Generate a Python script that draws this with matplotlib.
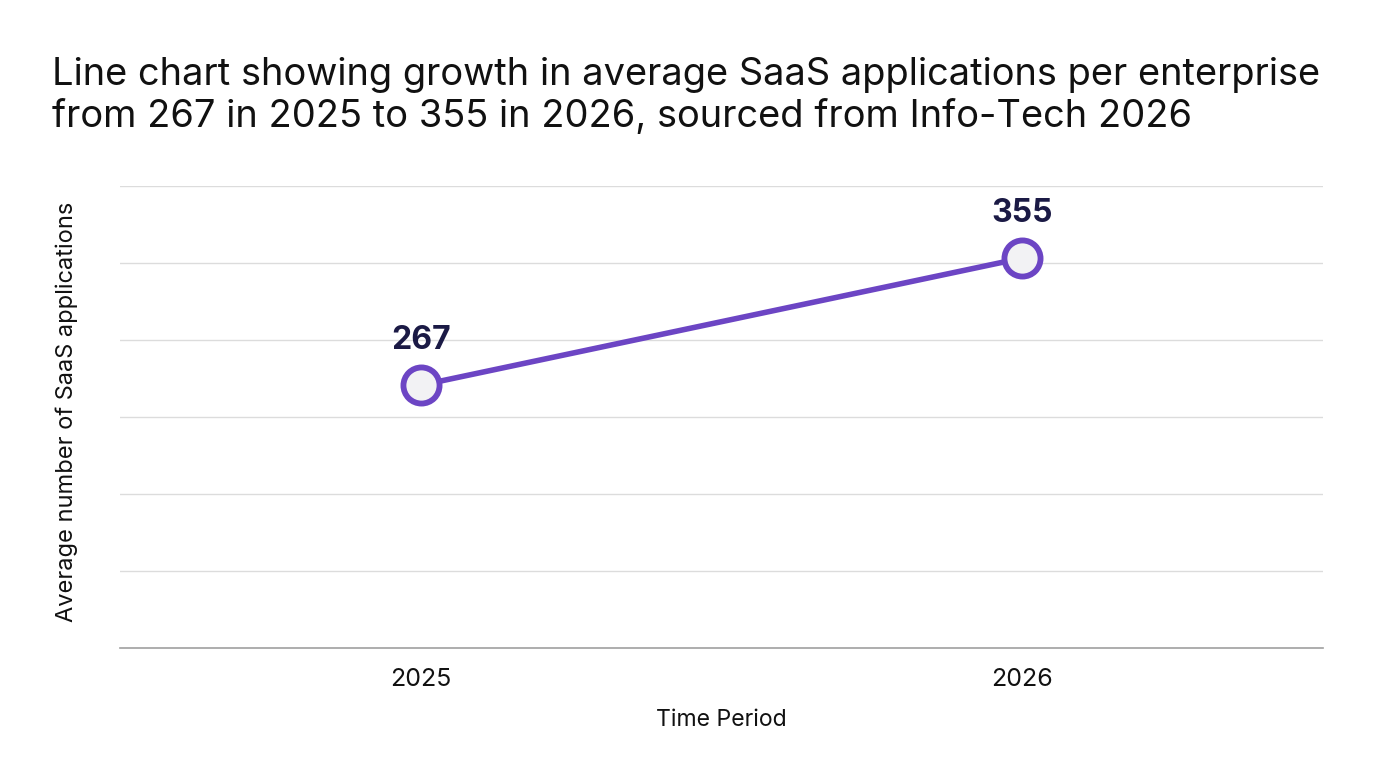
import numpy as np
import matplotlib.pyplot as plt

plt.rcParams['font.family'] = ['Inter', 'DejaVu Sans']

# Данные
years = ["2025", "2026"]
apps = [267, 355]

purple = "#6c45c4"
navy = "#1b1a45"

fig = plt.figure(figsize=(13.76, 7.68), dpi=100)
ax = fig.add_axes([0.0872, 0.156, 0.8743, 0.602])

x = range(len(years))
ax.plot(x, apps, color=purple, linewidth=4, zorder=3,
        marker="o", markersize=26, markerfacecolor="#f2f2f4",
        markeredgecolor=purple, markeredgewidth=4.2, solid_capstyle="round")

for xi, v in zip(x, apps):
    ax.annotate(str(v), (xi, v), xytext=(0, 21), textcoords="offset points",
                ha="center", va="bottom", fontsize=23, fontweight="bold", color=navy)

ymin, ymax = 85, 405
ax.set_xlim(-0.5, 1.5)
ax.set_ylim(ymin, ymax)
ax.set_yticks(np.linspace(ymin, ymax, 7)[1:])
ax.set_yticklabels([])
ax.tick_params(axis="y", length=0)
ax.set_xticks(list(x))
ax.set_xticklabels(years, fontsize=18, color="#111111")
ax.tick_params(axis="x", length=0, pad=14)
ax.grid(axis="y", color="#dcdcdc", linewidth=1)
ax.set_axisbelow(True)
for s in ["top", "right", "left"]:
    ax.spines[s].set_visible(False)
ax.spines["bottom"].set_color("#a0a0a0")
ax.spines["bottom"].set_linewidth(1.2)

ax.set_xlabel("Time Period", fontsize=16.6, color="#111111", labelpad=13)
ax.set_ylabel("Average number of SaaS applications", fontsize=17, color="#111111",
              labelpad=27, y=0.511)

fig.text(0.038, 0.824, "Line chart showing growth in average SaaS applications per enterprise\n"
         "from 267 in 2025 to 355 in 2026, sourced from Info-Tech 2026",
         fontsize=27.4, color="#111111", ha="left", va="bottom", linespacing=1.22)

fig.savefig("out.png", dpi=100, facecolor="white")
